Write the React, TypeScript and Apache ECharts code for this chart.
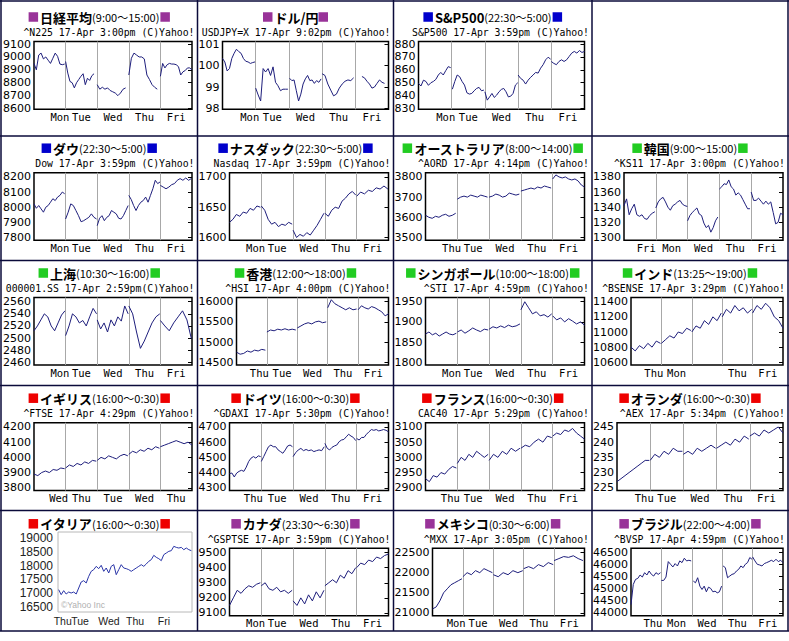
import React, { useEffect, useRef } from "react";
import * as echarts from "echarts";

type Seg = [number, number, number, number[]];

const NAVY = "#1e1e7c";
const PURPLE = "#993399";
const BLUE = "#0000cc";
const GREEN = "#22cc22";
const RED = "#ee0000";
const BORDER = "#0a0a3a";

// ---------- data ----------
const n225Days = ["Mon", "Tue", "Wed", "Thu", "Fri"];
const n225Ticks = [8600, 8700, 8800, 8900, 9000, 9100];
const n225Segs: Seg[] = [
  [0, 0, 0.97, [8950, 8900, 9015, 9030, 8985, 9000, 8975, 8950, 8990, 9030, 9005, 8945, 8940, 8945]],
  [1, 0, 0.9, [8965, 8875, 8810, 8800, 8760, 8800, 8825, 8850, 8870, 8785, 8835, 8818, 8855, 8870]],
  [2, 0, 0.9, [8785, 8750, 8765, 8750, 8760, 8740, 8730, 8720, 8700, 8720, 8750, 8760]],
  [3, 0, 0.9, [8860, 8990, 9030, 9015, 9000, 9000, 8985, 8860, 8825, 8785, 8765, 8750]],
  [4, 0, 1.0, [8850, 8950, 8915, 8940, 8950, 8945, 8945, 8940, 8925, 8860, 8885, 8895, 8915, 8915, 8900]],
];

const usdDays = ["Mon", "Tue", "Wed", "Thu", "Fri"];
const usdTicks = [98, 99, 100, 101];
const usdSegs: Seg[] = [
  [0, 0, 0.98, [100.33, 100.17, 99.75, 99.86, 100.33, 100.57, 100.76, 100.65, 100.57, 100.33, 100.2, 100.17, 100.1, 100.14, 100.17]],
  [1, 0, 0.97, [98.95, 98.63, 98.35, 99.86, 99.7, 99.86, 99.54, 99.94, 99.22, 99.06, 98.83, 98.9, 98.9, 98.9]],
  [2, 0.02, 0.97, [99.41, 99.3, 99.33, 98.83, 98.35, 98.67, 99.14, 99.38, 99.54, 99.3, 99.33, 99.17, 99.3, 99.22, 99.38]],
  [3, 0, 0.95, [99.62, 99.54, 99.14, 98.86, 98.59, 98.67, 98.95, 99.14, 99.27, 99.33, 99.3, 99.43]],
  [4, 0.2, 0.88, [99.49, 99.43, 99.27, 99.14, 98.95, 99.0, 99.17, 99.33, 99.22, 99.17]],
];

const spDays = ["Mon", "Tue", "Wed", "Thu", "Fri"];
const spTicks = [830, 840, 850, 860, 870, 880];
const spSegs: Seg[] = [
  [0, 0, 0.97, [849.5, 847.5, 852, 851, 848, 850, 851, 852.6, 856, 858, 856, 859.4, 862.5, 861.7]],
  [1, 0.02, 0.97, [845, 851, 856, 854.7, 851, 848.2, 842.2, 841.2, 841.7, 843.8, 845.6, 846.4, 843.8, 844.3]],
  [2, 0, 0.99, [843, 836.5, 839, 841.7, 838.6, 840.4, 843, 844.8, 845.6, 843, 839, 839.6, 841.7, 848.2, 850]],
  [3, 0, 0.98, [856, 853.4, 852, 849, 852, 854.2, 856, 858, 857.5, 861.3, 864, 867.8, 869.8, 868.3]],
  [4, 0, 1.0, [866.5, 865, 864, 866.5, 867.8, 866.5, 867.8, 870.4, 873, 874.3, 873, 875, 873.5, 874.3]],
];

const dowDays = ["Mon", "Tue", "Wed", "Thu", "Fri"];
const dowTicks = [7800, 7900, 8000, 8100, 8200];
const dowSegs: Seg[] = [
  [0, 0, 0.97, [8022, 7993, 8011, 7989, 7967, 8000, 8011, 8033, 8056, 8044, 8067, 8078, 8100, 8089]],
  [1, 0, 0.98, [7922, 7967, 8022, 8011, 7978, 7944, 7904, 7911, 7922, 7933, 7956, 7933, 7922]],
  [2, 0, 0.98, [7878, 7927, 7944, 7911, 7933, 7944, 7978, 7967, 7956, 7927, 7922, 7944, 7978, 8011]],
  [3, 0, 0.99, [8078, 8051, 8011, 7978, 8011, 8033, 8044, 8067, 8033, 8078, 8122, 8178, 8156, 8167]],
  [4, 0, 0.98, [8144, 8133, 8122, 8133, 8149, 8156, 8178, 8189, 8178, 8193, 8178, 8189]],
];

const nasDays = ["Mon", "Tue", "Wed", "Thu", "Fri"];
const nasTicks = [1600, 1650, 1700];
const nasSegs: Seg[] = [
  [0, 0, 0.97, [1625, 1630, 1638, 1635, 1642, 1640, 1648, 1645, 1652, 1650]],
  [1, 0, 0.97, [1652, 1645, 1630, 1622, 1625, 1618, 1622, 1620, 1625, 1622]],
  [2, 0, 0.97, [1612, 1600, 1605, 1602, 1608, 1604, 1612, 1620, 1630, 1640]],
  [3, 0, 0.97, [1640, 1635, 1645, 1650, 1648, 1660, 1665, 1672, 1676, 1670]],
  [4, 0, 0.98, [1668, 1675, 1672, 1678, 1676, 1682, 1680, 1685, 1680]],
];

const audDays = ["Thu", "Tue", "Wed", "Thu", "Fri"];
const audTicks = [3500, 3600, 3700, 3800];
const audSegs: Seg[] = [
  [0, 0, 0.95, [3610, 3600, 3595, 3605, 3600, 3610, 3615, 3605, 3610, 3620]],
  [1, 0, 0.95, [3690, 3700, 3705, 3700, 3710, 3705, 3700, 3710, 3705, 3700]],
  [2, 0, 0.95, [3700, 3705, 3715, 3710, 3700, 3705, 3720, 3715, 3710, 3715]],
  [3, 0, 0.95, [3730, 3735, 3740, 3745, 3740, 3750, 3745, 3755, 3750, 3745]],
  [4, 0, 1.0, [3790, 3810, 3800, 3795, 3800, 3790, 3785, 3790, 3780, 3760, 3750]],
];

const ksDays = ["Fri", "Mon", "Wed", "Thu", "Fri"];
const ksTicks = [1300, 1320, 1340, 1360, 1380];
const ksSegs: Seg[] = [
  [0, 0, 0.97, [1342, 1351, 1330, 1338, 1344, 1330, 1328, 1330, 1325, 1324, 1329, 1332, 1334]],
  [1, 0, 0.99, [1339, 1347, 1351, 1353, 1347, 1340, 1336, 1342, 1344, 1347, 1349, 1344, 1342, 1341]],
  [2, 0, 0.95, [1322, 1329, 1333, 1336, 1339, 1331, 1329, 1319, 1313, 1316, 1307, 1313, 1322, 1327]],
  [3, 0, 0.96, [1364, 1367, 1371, 1370, 1376, 1367, 1364, 1356, 1359, 1356, 1350, 1344, 1338, 1338]],
  [4, 0, 1.0, [1360, 1349, 1349, 1352, 1348, 1344, 1348, 1344, 1347, 1333, 1318, 1320, 1332, 1330]],
];

const shDays = ["Mon", "Tue", "Wed", "Thu", "Fri"];
const shTicks = [2460, 2480, 2500, 2520, 2540, 2560];
const shSegs: Seg[] = [
  [0, 0, 0.98, [2512, 2520, 2530, 2540, 2535, 2520, 2512, 2525, 2538, 2545]],
  [1, 0, 0.98, [2504, 2520, 2540, 2535, 2525, 2529, 2520, 2535, 2549, 2540]],
  [2, 0, 0.98, [2530, 2515, 2525, 2510, 2530, 2520, 2535, 2528, 2553, 2540]],
  [3, 0, 0.98, [2553, 2540, 2510, 2483, 2495, 2510, 2525, 2535, 2540]],
  [4, 0, 0.98, [2529, 2520, 2512, 2525, 2535, 2545, 2530, 2499]],
];

const hsDays = ["Thu", "Tue", "Wed", "Thu", "Fri"];
const hsTicks = [14500, 15000, 15500, 16000];
const hsSegs: Seg[] = [
  [0, 0, 0.95, [14750, 14700, 14720, 14780, 14750, 14800, 14780, 14820, 14800]],
  [1, 0, 0.95, [15250, 15300, 15280, 15320, 15300, 15330, 15300, 15320, 15300]],
  [2, 0, 0.95, [15350, 15400, 15450, 15480, 15450, 15500, 15520, 15480, 15500]],
  [3, 0, 0.95, [15850, 16050, 15950, 15900, 15850, 15800, 15850, 15800, 15820]],
  [4, 0, 1.0, [15800, 15900, 15850, 15820, 15880, 15850, 15800, 15750, 15650, 15700]],
];

const stiDays = ["Mon", "Tue", "Wed", "Thu", "Fri"];
const stiTicks = [1800, 1850, 1900, 1950];
const stiSegs: Seg[] = [
  [0, 0, 0.97, [1870, 1875, 1868, 1872, 1865, 1870, 1875, 1870, 1868, 1872]],
  [1, 0, 0.97, [1875, 1880, 1872, 1878, 1885, 1880, 1876, 1882, 1880]],
  [2, 0, 0.97, [1882, 1888, 1885, 1890, 1886, 1892, 1888, 1890, 1895]],
  [3, 0, 0.97, [1930, 1950, 1935, 1920, 1925, 1915, 1918, 1912, 1920]],
  [4, 0, 1.0, [1915, 1905, 1910, 1900, 1908, 1902, 1895, 1900, 1892]],
];

const bseDays = ["Thu", "Mon", "", "Thu", "Fri"];
const bseTicks = [10600, 10800, 11000, 11200, 11400];
const bseSegs: Seg[] = [
  [0, 0, 0.97, [10800, 10750, 10820, 10780, 10850, 10800, 10880, 10850]],
  [1, 0, 0.97, [10850, 10900, 10950, 10920, 11000, 10980, 11050, 11020]],
  [2, 0, 0.97, [11000, 11080, 11050, 11150, 11100, 11200, 11150, 11250]],
  [3, 0, 0.97, [11200, 11300, 11250, 11350, 11280, 11320, 11250, 11300]],
  [4, 0, 1.0, [11250, 11350, 11300, 11380, 11320, 11200, 11150, 11050]],
];

const ftDays = ["Wed", "Thu", "Tue", "Wed", "Thu"];
const ftTicks = [3800, 3900, 4000, 4100, 4200];
const ftSegs: Seg[] = [
  [0, 0, 0.97, [3890, 3880, 3900, 3910, 3900, 3920, 3915, 3930, 3925]],
  [1, 0, 0.97, [3930, 3950, 3940, 3960, 3950, 3970, 3960, 3980, 3975]],
  [2, 0, 0.97, [3980, 4000, 3990, 4010, 4000, 3990, 4010, 4020, 4010]],
  [3, 0, 0.97, [4020, 4040, 4030, 4050, 4040, 4060, 4050, 4070, 4060]],
  [4, 0, 1.0, [4070, 4080, 4090, 4100, 4110, 4100, 4090, 4100, 4080]],
];

const daxDays = ["Thu", "Tue", "Wed", "Thu", "Fri"];
const daxTicks = [4300, 4400, 4500, 4600, 4700];
const daxSegs: Seg[] = [
  [0, 0, 0.98, [4393, 4397, 4371, 4397, 4408, 4415, 4408, 4436, 4473, 4495, 4505, 4495, 4510, 4505]],
  [1, 0, 0.98, [4473, 4505, 4538, 4570, 4581, 4570, 4570, 4549, 4538, 4527, 4549, 4575, 4581, 4570]],
  [2, 0, 0.98, [4505, 4531, 4549, 4559, 4544, 4552, 4544, 4549, 4538, 4544, 4549, 4544, 4570]],
  [3, 0, 0.97, [4592, 4559, 4549, 4566, 4575, 4581, 4603, 4614, 4618, 4635, 4652, 4640, 4631, 4610]],
  [4, 0, 1.0, [4624, 4614, 4631, 4631, 4652, 4668, 4683, 4678, 4683, 4674, 4678, 4683, 4678, 4668]],
];

const cacDays = ["Thu", "Tue", "Wed", "Thu", "Fri"];
const cacTicks = [2900, 2950, 3000, 3050, 3100];
const cacSegs: Seg[] = [
  [0, 0, 0.97, [2930, 2920, 2940, 2935, 2950, 2945, 2960, 2970, 2965]],
  [1, 0, 0.97, [2980, 3000, 2990, 3010, 3000, 3020, 3010, 3000, 3010]],
  [2, 0, 0.97, [2990, 3010, 3000, 3020, 3010, 3030, 3020, 3030]],
  [3, 0, 0.97, [3030, 3040, 3035, 3050, 3060, 3050, 3070, 3065]],
  [4, 0, 1.0, [3070, 3080, 3075, 3090, 3085, 3095, 3080, 3070, 3060]],
];

const aexDays = ["Thu", "Tue", "Wed", "Thu", "Fri"];
const aexTicks = [225, 230, 235, 240, 245];
const aexSegs: Seg[] = [
  [0, 0, 0.97, [227, 228, 229, 230, 231, 232, 233, 234, 234]],
  [1, 0, 0.97, [234, 236, 235, 237, 236, 238, 237, 237]],
  [2, 0, 0.97, [236, 237, 236, 238, 237, 238, 239, 238]],
  [3, 0, 0.97, [238, 239, 240, 239, 241, 240, 242, 241]],
  [4, 0, 1.0, [242, 243, 242, 244, 243, 244, 245, 243]],
];

const itDays = ["Thu", "Tue", "Wed", "Thu", "Fri"];
const itLabelPos = [3.5, 16.5, 38, 57.5, 79];
const itTicks = [16500, 17000, 17500, 18000, 18500, 19000];
const itValues = [
  17128, 16947, 17092, 16971, 17043, 17007, 17043, 16971, 17188, 17406, 17454, 17370, 17611, 17792,
  17853, 17973, 17889, 18010, 17792, 17913, 17732, 17973, 18034, 17671, 17853, 18034, 17913, 17889,
  17853, 17792, 17853, 17913, 17973, 18034, 17973, 18058, 18155, 18215, 18372, 18300, 18251, 18179,
  18396, 18456, 18517, 18541, 18698, 18660, 18637, 18660, 18577, 18637, 18577, 18541,
];

const tsxDays = ["Mon", "Tue", "Wed", "Thu", "Fri"];
const tsxTicks = [9100, 9200, 9300, 9400, 9500];
const tsxSegs: Seg[] = [
  [0, 0, 0.97, [9150, 9200, 9250, 9230, 9260, 9280, 9270, 9290, 9300]],
  [1, 0, 0.97, [9280, 9300, 9260, 9250, 9270, 9240, 9250, 9230, 9250]],
  [2, 0, 0.97, [9180, 9150, 9200, 9160, 9220, 9180, 9240, 9200, 9250]],
  [3, 0, 0.97, [9280, 9300, 9320, 9300, 9350, 9330, 9380, 9360, 9400]],
  [4, 0, 1.0, [9400, 9430, 9420, 9450, 9440, 9470, 9460, 9480, 9490]],
];

const mxDays = ["Mon", "Tue", "Wed", "Thu", "Fri"];
const mxTicks = [21000, 21500, 22000, 22500];
const mxSegs: Seg[] = [
  [0, 0, 0.97, [21100, 21150, 21300, 21500, 21600, 21700, 21750, 21800, 21850]],
  [1, 0, 0.97, [21900, 22000, 21950, 22050, 22000, 22100, 22050, 22000]],
  [2, 0, 0.97, [21950, 21900, 22000, 21950, 22050, 22000, 22050]],
  [3, 0, 0.97, [22100, 22150, 22100, 22200, 22150, 22250, 22200]],
  [4, 0, 0.95, [22300, 22350, 22400, 22380, 22420, 22350, 22300]],
];

const bvDays = ["Thu", "Mon", "Wed", "Thu", "Fri"];
const bvTicks = [44000, 44500, 45000, 45500, 46000, 46500];
const bvSegs: Seg[] = [
  [0, 0, 0.97, [44347, 45180, 45389, 45430, 45570, 45486, 45667, 45570, 45736, 45597, 45528, 45667, 45597, 45667]],
  [1, 0, 0.98, [45347, 45347, 45486, 46125, 46014, 45903, 46042, 45944, 46153, 46083, 46264, 46153, 46180, 46153]],
  [2, 0.05, 0.98, [45319, 45250, 45458, 45111, 44972, 45111, 44875, 45069, 45014, 44875, 44903, 44833, 44875, 45111]],
  [3, 0.03, 0.98, [45944, 45875, 45458, 45528, 45597, 45625, 45736, 45805, 45944, 45875, 46014, 46083, 46292, 46222]],
  [4, 0, 1.0, [46319, 46153, 46014, 45986, 45944, 46042, 46083, 46125, 46180, 46125, 46222, 46125, 46180, 46083]],
];

// ---------- chart list ----------
const CHARTS: any[] = [
  { row: 0, col: 0, name: "日経平均", time: "(9:00〜15:00)", color: PURPLE, sub: "^N225 17-Apr 3:00pm (C)Yahoo!", days: n225Days, ticks: n225Ticks, segs: n225Segs },
  { row: 0, col: 1, name: "ドル/円", time: "", color: PURPLE, sub: "USDJPY=X 17-Apr 9:02pm (C)Yahoo!", days: usdDays, ticks: usdTicks, segs: usdSegs },
  { row: 0, col: 2, name: "S&P500", time: "(22:30〜5:00)", color: BLUE, sub: "S&P500 17-Apr 3:59pm (C)Yahoo!", days: spDays, ticks: spTicks, segs: spSegs },
  { row: 1, col: 0, name: "ダウ", time: "(22:30〜5:00)", color: BLUE, sub: "Dow 17-Apr 3:59pm (C)Yahoo!", days: dowDays, ticks: dowTicks, segs: dowSegs },
  { row: 1, col: 1, name: "ナスダック", time: "(22:30〜5:00)", color: BLUE, sub: "Nasdaq 17-Apr 3:59pm (C)Yahoo!", days: nasDays, ticks: nasTicks, segs: nasSegs },
  { row: 1, col: 2, name: "オーストラリア", time: "(8:00〜14:00)", color: GREEN, sub: "^AORD 17-Apr 4:14pm (C)Yahoo!", days: audDays, ticks: audTicks, segs: audSegs },
  { row: 1, col: 3, name: "韓国", time: "(9:00〜15:00)", color: GREEN, sub: "^KS11 17-Apr 3:00pm (C)Yahoo!", days: ksDays, ticks: ksTicks, segs: ksSegs, first: 0.7 },
  { row: 2, col: 0, name: "上海", time: "(10:30〜16:00)", color: GREEN, sub: "000001.SS 17-Apr 2:59pm(C)Yahoo!", days: shDays, ticks: shTicks, segs: shSegs },
  { row: 2, col: 1, name: "香港", time: "(12:00〜18:00)", color: GREEN, sub: "^HSI 17-Apr 4:00pm (C)Yahoo!", days: hsDays, ticks: hsTicks, segs: hsSegs, first: 0.75 },
  { row: 2, col: 2, name: "シンガポール", time: "(10:00〜18:00)", color: GREEN, sub: "^STI 17-Apr 4:59pm (C)Yahoo!", days: stiDays, ticks: stiTicks, segs: stiSegs },
  { row: 2, col: 3, name: "インド", time: "(13:25〜19:00)", color: GREEN, sub: "^BSENSE 17-Apr 3:29pm (C)Yahoo!", days: bseDays, ticks: bseTicks, segs: bseSegs, first: 0.75 },
  { row: 3, col: 0, name: "イギリス", time: "(16:00〜0:30)", color: RED, sub: "^FTSE 17-Apr 4:29pm (C)Yahoo!", days: ftDays, ticks: ftTicks, segs: ftSegs, first: 0.78 },
  { row: 3, col: 1, name: "ドイツ", time: "(16:00〜0:30)", color: RED, sub: "^GDAXI 17-Apr 5:30pm (C)Yahoo!", days: daxDays, ticks: daxTicks, segs: daxSegs, first: 0.75 },
  { row: 3, col: 2, name: "フランス", time: "(16:00〜0:30)", color: RED, sub: "CAC40 17-Apr 5:29pm (C)Yahoo!", days: cacDays, ticks: cacTicks, segs: cacSegs, first: 0.78 },
  { row: 3, col: 3, name: "オランダ", time: "(16:00〜0:30)", color: RED, sub: "^AEX 17-Apr 5:34pm (C)Yahoo!", days: aexDays, ticks: aexTicks, segs: aexSegs },
  { row: 4, col: 0, name: "イタリア", time: "(16:00〜0:30)", color: RED, italy: true },
  { row: 4, col: 1, name: "カナダ", time: "(23:30〜6:30)", color: PURPLE, sub: "^GSPTSE 17-Apr 3:59pm (C)Yahoo!", days: tsxDays, ticks: tsxTicks, segs: tsxSegs },
  { row: 4, col: 2, name: "メキシコ", time: "(0:30〜6:00)", color: PURPLE, sub: "^MXX 17-Apr 3:05pm (C)Yahoo!", days: mxDays, ticks: mxTicks, segs: mxSegs, first: 0.78 },
  { row: 4, col: 3, name: "ブラジル", time: "(22:00〜4:00)", color: PURPLE, sub: "^BVSP 17-Apr 4:59pm (C)Yahoo!", days: bvDays, ticks: bvTicks, segs: bvSegs, first: 0.72 },
];

// ---------- layout ----------
const COLX = [1, 197.5, 393.5, 592, 788];
const ROWY = [1, 136, 260.5, 385.5, 510.5, 631];
const PTOP = [41.5, 172.7, 297.5, 422.7, 548.3];
const PBOT = [109.3, 240.2, 365, 490.5, 615.7];

const plain = (v: number) => String(v);

type LabelSpec = { xa: number; v: number; y: number; text: string; font: any };

function buildOption() {
  const grid: any[] = [];
  const xAxis: any[] = [];
  const yAxis: any[] = [];
  const series: any[] = [];
  const graphic: any[] = [];
  const labels: LabelSpec[] = [];

  ROWY.forEach((y) =>
    graphic.push({ type: "line", silent: true, z: 10, shape: { x1: 0, y1: y, x2: 789, y2: y }, style: { stroke: BORDER, lineWidth: 1.5 } })
  );
  COLX.forEach((x) =>
    graphic.push({ type: "line", silent: true, z: 10, shape: { x1: x, y1: 0, x2: x, y2: ROWY[5] }, style: { stroke: BORDER, lineWidth: 1.5 } })
  );

  CHARTS.forEach((c, k) => {
    const x0 = COLX[c.col];
    const x1 = COLX[c.col + 1];
    const top = PTOP[c.row];
    const bot = PBOT[c.row];

    const titleText =
      "{sq| }{b|" + c.name + "}" + (c.time ? "{n|" + c.time + "}" : "") + "{sq2| }";
    graphic.push({
      type: "text",
      silent: true,
      z: 10,
      style: {
        text: titleText,
        x: (x0 + x1) / 2,
        y: top - 24.5,
        align: "center",
        verticalAlign: "middle",
        rich: {
          sq: { width: 9.5, height: 9.5, backgroundColor: c.color },
          sq2: { width: 9.5, height: 9.5, backgroundColor: c.color },
          b: { fontFamily: "Noto Sans CJK JP", fontWeight: "bold", fontSize: 13, fill: "#000", padding: [0, 0, 0, 2] },
          n: { fontFamily: "Noto Sans CJK JP", fontSize: 11, fill: "#000", padding: [0, 1, 0, 0] },
        },
      },
    });

    if (c.italy) {
      const gl = 58, gt = 532, gw = 134, gh = 80;
      const step = 500;
      const ymin = itTicks[0] - (5 / 13.8) * step;
      const ymax = itTicks[itTicks.length - 1] + (6 / 13.8) * step;
      grid.push({ left: gl, top: gt, width: gw, height: gh, show: true, borderColor: "#b8b8b8", borderWidth: 1, backgroundColor: "#fff" });
      const xa = xAxis.length;
      xAxis.push({
        type: "value", gridIndex: k, min: 0, max: 100, position: "bottom",
        axisLine: { show: false }, axisTick: { show: false }, splitLine: { show: false }, axisLabel: { show: false },
      });
      const ya = yAxis.length;
      yAxis.push({
        type: "value", gridIndex: k, min: ymin, max: ymax,
        axisLine: { show: false }, axisTick: { show: false }, splitLine: { show: false },
        axisLabel: { customValues: itTicks, formatter: plain, fontFamily: "Liberation Sans", fontSize: 12, color: "#222", margin: 5 },
      });
      const n = itValues.length;
      series.push({
        type: "line", xAxisIndex: xa, yAxisIndex: ya, silent: true, showSymbol: false, symbol: "none",
        lineStyle: { color: "#2a35a8", width: 1 },
        data: itValues.map((v, i) => [0.5 + (99 * i) / (n - 1), v]),
      });
      const itFont = { fontFamily: "Liberation Sans", fontSize: 10.5, fill: "#222" };
      itDays.forEach((d, i) => labels.push({ xa, v: itLabelPos[i], y: gt + gh + 9, text: d, font: itFont }));
      graphic.push({
        type: "text", silent: true, z: 10,
        style: { text: "©Yahoo Inc", x: 61, y: 605, verticalAlign: "middle", fontFamily: "Liberation Sans", fontSize: 8.5, fill: "#b0b0b0" },
      });
      return;
    }

    graphic.push({
      type: "text", silent: true, z: 10,
      style: { text: c.sub, x: x1 - 3, y: top - 9, align: "right", verticalAlign: "middle", fontFamily: "DejaVu Sans Mono", fontSize: 9.8, fill: "#000" },
    });

    const ticks: number[] = c.ticks;
    const digits = String(ticks[ticks.length - 1]).length;
    const left = x0 + 4 + 7 * digits;
    const width = x0 + 191 - left;
    const range = ticks[ticks.length - 1] - ticks[0];
    const padT = c.row === 0 ? 0.04 : 0.07;
    const padB = c.row === 0 ? 0.012 : 0.045;
    const ymin = ticks[0] - padB * range;
    const ymax = ticks[ticks.length - 1] + padT * range;

    grid.push({ left, top, width, height: bot - top, show: true, borderColor: "#000", borderWidth: 1.5, backgroundColor: "#fff" });

    const xa = xAxis.length;
    xAxis.push({
      type: "value", gridIndex: k, min: 0, max: 5, interval: 1, position: "bottom",
      axisLine: { show: false }, axisTick: { show: false }, axisLabel: { show: false },
      splitLine: { show: true, showMinLine: false, showMaxLine: false, lineStyle: { color: "#a8a8a8", width: 1 } },
    });
    const first = c.first ?? 0.82;
    const pos = [first, 1.5, 2.5, 3.5, 4.5];
    const xFont = { fontFamily: "DejaVu Sans Mono", fontSize: 10.5, fill: "#000" };
    (c.days as string[]).forEach((d, i) => {
      if (d) labels.push({ xa, v: pos[i], y: bot + 7.5, text: d, font: xFont });
    });

    const ya = yAxis.length;
    yAxis.push({
      type: "value", gridIndex: k, min: ymin, max: ymax,
      axisLine: { show: false }, axisTick: { show: false }, splitLine: { show: false },
      axisLabel: { customValues: ticks, formatter: plain, fontFamily: "DejaVu Sans", fontSize: 11, color: "#000", margin: 3 },
    });
    yAxis.push({
      type: "value", gridIndex: k, min: ymin, max: ymax, position: "right",
      axisLine: { show: false }, splitLine: { show: false }, axisLabel: { show: false },
      axisTick: { show: true, inside: true, length: 4, customValues: ticks, lineStyle: { color: "#000", width: 1 } },
    });

    (c.segs as Seg[]).forEach(([d, s, e, vals]) => {
      const n = vals.length;
      series.push({
        type: "line", xAxisIndex: xa, yAxisIndex: ya, silent: true, showSymbol: false, symbol: "none",
        lineStyle: { color: NAVY, width: 1 },
        data: vals.map((v, i) => [d + s + ((e - s) * i) / (n - 1), v]),
      });
    });
  });

  return {
    option: {
      animation: false,
      backgroundColor: "#fff",
      grid,
      xAxis,
      yAxis,
      series,
      graphic: { elements: graphic },
    },
    graphic,
    labels,
  };
}

export default function App() {
  const ref = useRef<HTMLDivElement>(null);
  useEffect(() => {
    document.body.style.margin = "0";
    const chart = echarts.init(ref.current!, undefined, { renderer: "svg" });
    const built = buildOption();
    chart.setOption(built.option as any);
    const extra = built.labels.map((l) => {
      const px = chart.convertToPixel({ xAxisIndex: l.xa } as any, l.v) as unknown as number;
      return {
        type: "text",
        silent: true,
        z: 10,
        style: { text: l.text, x: px, y: l.y, align: "center", verticalAlign: "middle", ...l.font },
      };
    });
    chart.setOption({ graphic: { elements: [...built.graphic, ...extra] } } as any);
    return () => chart.dispose();
  }, []);
  return <div ref={ref} style={{ position: "absolute", left: 0, top: 0, width: 789, height: 641 }} />;
}
